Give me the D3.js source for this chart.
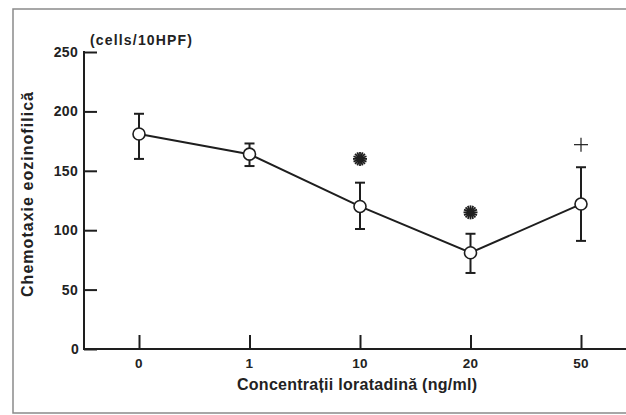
<!DOCTYPE html>
<html>
<head>
<meta charset="utf-8">
<script src="https://cdn.jsdelivr.net/npm/d3@7"></script>
<style>
  html, body { margin: 0; padding: 0; background: #fff; }
  svg { display: block; }
  text { font-family: Arial, "Liberation Sans", sans-serif; font-weight: bold; fill: #222; }
</style>
</head>
<body>
<svg id="chart" width="626" height="415"></svg>
<script>
const categories = ["0", "1", "10", "20", "50"];
const means = [181, 164, 120, 81, 122];
const upper = [198, 173, 140, 97, 153];
const lower = [160, 154, 101, 64, 91];
const asteriskAt = [{cat: "10", value: 160}, {cat: "20", value: 115}];
const plusAt = [{cat: "50", value: 172}];
const yTicks = [0, 50, 100, 150, 200, 250];
const yTitle = "Chemotaxie eozinofilică";
const xTitle = "Concentrații loratadină (ng/ml)";
const unitLabel = "(cells/10HPF)";

const svg = d3.select("#chart");
const ink = "#1e1e1e";

// frame
svg.append("rect").attr("x", 13).attr("y", 9).attr("width", 640).attr("height", 404)
  .attr("fill", "none").attr("stroke", "#8a8a8a").attr("stroke-width", 1.5);

const x = d3.scalePoint().domain(categories).range([139, 581]);
const y = d3.scaleLinear().domain([0, 250]).range([349, 52]);
const axisX0 = 84;

// y axis
const yAxis = d3.axisRight(y).tickValues(yTicks).tickSize(13).tickFormat("");
const gy = svg.append("g").attr("transform", `translate(${axisX0},0)`).call(yAxis);
gy.select(".domain").remove();
gy.selectAll(".tick line").attr("stroke", ink).attr("stroke-width", 2);
svg.append("line").attr("x1", axisX0).attr("x2", axisX0).attr("y1", y(250) - 1).attr("y2", y(0))
  .attr("stroke", ink).attr("stroke-width", 2);
svg.append("g").selectAll("text").data(yTicks).join("text")
  .attr("x", d => d === 0 ? 79 : 78).attr("y", d => y(d)).attr("dy", "0.36em")
  .attr("text-anchor", "end").attr("font-size", 14).attr("letter-spacing", 0.3).text(d => d);

// x axis
const xAxis = d3.axisTop(x).tickSize(14).tickFormat("");
const gx = svg.append("g").attr("transform", `translate(0,${y(0)})`).call(xAxis);
gx.select(".domain").remove();
gx.selectAll(".tick line").attr("stroke", ink).attr("stroke-width", 2);
svg.append("line").attr("x1", axisX0 - 1).attr("x2", 626).attr("y1", y(0)).attr("y2", y(0))
  .attr("stroke", ink).attr("stroke-width", 2);
svg.append("g").selectAll("text").data(categories).join("text")
  .attr("x", d => x(d)).attr("y", 368).attr("text-anchor", "middle")
  .attr("font-size", 13.5).attr("letter-spacing", 0.3).text(d => d);

// titles
svg.append("text").attr("x", 237).attr("y", 390)
  .attr("font-size", 16).attr("textLength", 240).attr("lengthAdjust", "spacing").text(xTitle);
svg.append("text").attr("transform", "translate(33,297) rotate(-90)")
  .attr("font-size", 16).attr("textLength", 205).attr("lengthAdjust", "spacing").text(yTitle);
svg.append("text").attr("x", 90).attr("y", 45).attr("font-size", 14)
  .attr("textLength", 102).attr("lengthAdjust", "spacing").text(unitLabel);

// data
const pts = categories.map((c, i) => ({c, m: means[i], hi: upper[i], lo: lower[i]}));

const eb = svg.append("g").attr("stroke", ink).attr("stroke-width", 2);
pts.forEach(p => {
  eb.append("line").attr("x1", x(p.c)).attr("x2", x(p.c)).attr("y1", y(p.hi)).attr("y2", y(p.lo));
  eb.append("line").attr("x1", x(p.c) - 5).attr("x2", x(p.c) + 5).attr("y1", y(p.hi)).attr("y2", y(p.hi));
  eb.append("line").attr("x1", x(p.c) - 5).attr("x2", x(p.c) + 5).attr("y1", y(p.lo)).attr("y2", y(p.lo));
});

svg.append("path").datum(pts)
  .attr("d", d3.line().x(p => x(p.c)).y(p => y(p.m)))
  .attr("fill", "none").attr("stroke", ink).attr("stroke-width", 2);

svg.append("g").selectAll("circle").data(pts).join("circle")
  .attr("cx", p => x(p.c)).attr("cy", p => y(p.m)).attr("r", 6)
  .attr("fill", "#fff").attr("stroke", ink).attr("stroke-width", 1.6);

// significance markers
asteriskAt.forEach(a => {
  const g = svg.append("g").attr("transform", `translate(${x(a.cat)},${y(a.value)})`);
  for (let k = 0; k < 8; k++) {
    g.append("line").attr("x1", 0).attr("y1", -7).attr("x2", 0).attr("y2", 7)
      .attr("transform", `rotate(${k * 22.5})`).attr("stroke", ink).attr("stroke-width", 1.8);
  }
  g.append("circle").attr("r", 3.5).attr("fill", ink);
});
plusAt.forEach(a => {
  const g = svg.append("g").attr("transform", `translate(${x(a.cat)},${y(a.value)})`)
    .attr("stroke", ink).attr("stroke-width", 1.2);
  g.append("line").attr("x1", -7).attr("x2", 7).attr("y1", 0).attr("y2", 0);
  g.append("line").attr("x1", 0).attr("x2", 0).attr("y1", -7).attr("y2", 7);
});
</script>
</body>
</html>
